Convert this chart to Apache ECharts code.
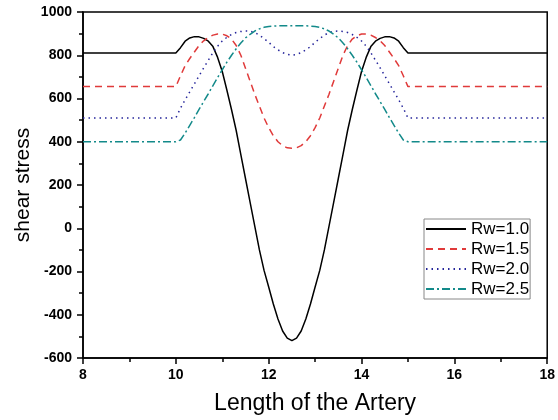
<!DOCTYPE html>
<html>
<head>
<meta charset="utf-8">
<script src="https://cdn.jsdelivr.net/npm/echarts@6/dist/echarts.min.js"></script>
<style>
html, body { margin: 0; padding: 0; background: #fff; }
#main { width: 558px; height: 420px; }
</style>
</head>
<body>
<div id="main"></div>
<script>
// position along the artery
var xs = [8,
    10.0, 10.1, 10.2, 10.3, 10.4, 10.5, 10.6, 10.7, 10.8, 10.9,
    11.0, 11.1, 11.2, 11.3, 11.4, 11.5, 11.6, 11.7, 11.8, 11.9,
    12.0, 12.1, 12.2, 12.3, 12.4, 12.5, 12.6, 12.7, 12.8, 12.9,
    13.0, 13.1, 13.2, 13.3, 13.4, 13.5, 13.6, 13.7, 13.8, 13.9,
    14.0, 14.1, 14.2, 14.3, 14.4, 14.5, 14.6, 14.7, 14.8, 14.9,
    15.0, 18];

var rw10 = [810,
    810, 835, 865, 880, 886, 885, 878, 865, 840, 790,
    725, 638, 548, 452, 340, 230, 120, 10, -100, -195,
    -272, -350, -420, -475, -508, -520, -508, -475, -420, -350,
    -272, -195, -100, 10, 120, 230, 340, 452, 548, 638,
    725, 790, 840, 865, 878, 885, 886, 880, 865, 835,
    810, 810];

var rw15 = [655,
    655, 705, 752, 785, 815, 845, 867, 882, 893, 898,
    898, 890, 875, 845, 800, 740, 680, 620, 565, 510,
    465, 428, 400, 382, 372, 370, 372, 382, 400, 428,
    465, 510, 565, 620, 680, 740, 800, 845, 875, 890,
    898, 898, 893, 882, 867, 845, 815, 785, 752, 705,
    655, 655];

var rw20 = [510,
    510, 555, 594, 631, 668, 705, 742, 777, 812, 842,
    866, 883, 896, 905, 910, 912, 911, 905, 893, 877,
    860, 840, 825, 812, 804, 800, 804, 812, 825, 840,
    860, 877, 893, 905, 911, 912, 910, 905, 896, 883,
    866, 842, 812, 777, 742, 705, 668, 631, 594, 555,
    510, 510];

var rw25 = [400,
    400, 408, 440, 476, 512, 550, 586, 622, 660, 697,
    733, 768, 800, 830, 857, 880, 897, 912, 922, 929,
    933, 935, 936, 936, 936, 936, 936, 936, 936, 935,
    933, 929, 922, 912, 897, 880, 857, 830, 800, 768,
    733, 697, 660, 622, 586, 550, 512, 476, 440, 408,
    400, 400];

var names = ['Rw=1.0', 'Rw=1.5', 'Rw=2.0', 'Rw=2.5'];
var colors = ['#000000', '#e03a3a', '#24249a', '#138a8a'];
var dashes = ['solid', [7, 5], [1.5, 4], [8, 3, 2, 3]];
var values = [rw10, rw15, rw20, rw25];

function pairs(ys) {
    return xs.map(function (x, i) { return [x, ys[i]]; });
}

var series = names.map(function (n, k) {
    return {
        name: n,
        type: 'line',
        symbol: 'none',
        smooth: false,
        data: pairs(values[k]),
        lineStyle: { color: colors[k], width: 1.5, type: dashes[k] },
        itemStyle: { color: colors[k] }
    };
});

var axisFont = { fontFamily: 'Arial', fontWeight: 'bold', fontSize: 14, color: '#000' };

var option = {
    backgroundColor: '#fff',
    animation: false,
    grid: {
        left: 83, right: 6, top: 12, bottom: 61,
        show: true, borderColor: '#000', borderWidth: 1.5
    },
    legend: {
        orient: 'vertical',
        left: 424,
        top: 219,
        data: names,
        backgroundColor: '#fff',
        borderColor: '#888',
        borderWidth: 1,
        borderRadius: 0,
        padding: [1, 1, 1, 1],
        itemGap: 2,
        itemWidth: 40,
        itemHeight: 14,
        itemStyle: { opacity: 0 },
        textStyle: { fontFamily: 'Arial', fontSize: 17, color: '#000', lineHeight: 18 }
    },
    xAxis: {
        type: 'value',
        min: 8, max: 18, interval: 2,
        name: 'Length of the Artery',
        nameLocation: 'middle',
        nameGap: 34,
        nameMoveOverlap: false,
        nameTextStyle: { fontFamily: 'Arial', fontSize: 23, color: '#000' },
        axisLine: { onZero: false, lineStyle: { color: '#000', width: 1.5 } },
        axisTick: { inside: false, length: 6, lineStyle: { color: '#000', width: 1.5 } },
        minorTick: { show: true, splitNumber: 2, length: 4, lineStyle: { color: '#000', width: 1.5 } },
        axisLabel: Object.assign({ margin: 10 }, axisFont),
        splitLine: { show: false }
    },
    yAxis: {
        type: 'value',
        min: -600, max: 1000, interval: 200,
        name: 'shear stress',
        nameLocation: 'middle',
        nameGap: 49,
        nameMoveOverlap: false,
        nameTextStyle: { fontFamily: 'Arial', fontSize: 21, color: '#000' },
        axisLine: { show: true, onZero: false, lineStyle: { color: '#000', width: 1.5 } },
        axisTick: { show: true, inside: false, length: 6, lineStyle: { color: '#000', width: 1.5 } },
        minorTick: { show: true, splitNumber: 2, length: 4, lineStyle: { color: '#000', width: 1.5 } },
        axisLabel: Object.assign({ margin: 11, formatter: function (v) { return String(v); } }, axisFont),
        splitLine: { show: false }
    },
    series: series
};

var myChart = echarts.init(document.getElementById('main'));
myChart.setOption(option);
</script>
</body>
</html>
